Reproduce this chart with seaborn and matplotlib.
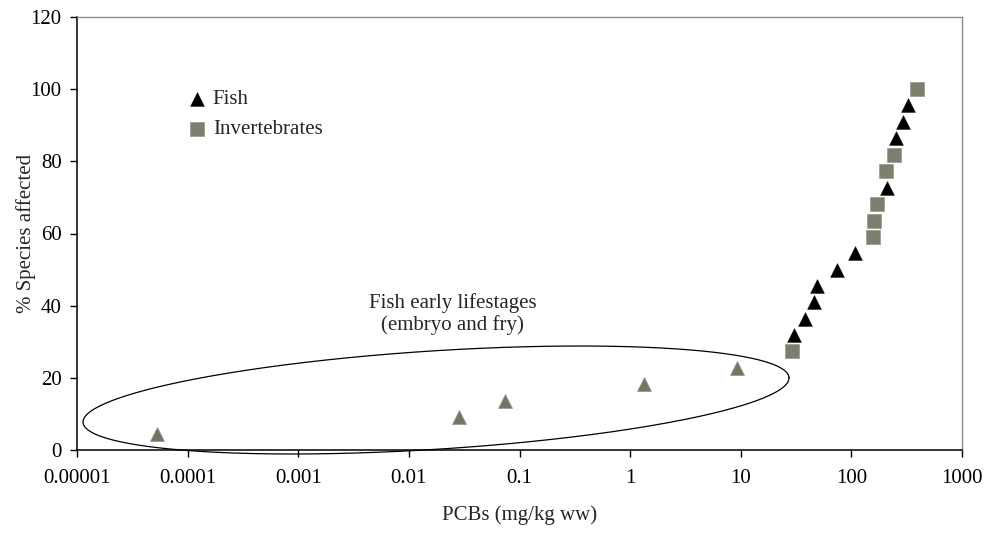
import numpy as np
import pandas as pd
import matplotlib
matplotlib.use("Agg")
import matplotlib.pyplot as plt
from matplotlib.ticker import FixedLocator, FixedFormatter, NullLocator
import seaborn as sns

# ---- data ----
early_x = [5.3e-5, 0.0284, 0.074, 1.34, 9.2]
early_y = [4.5, 9.1, 13.6, 18.2, 22.7]
fish_x = [30.6, 38.2, 46.1, 48.7, 74, 108, 209, 254, 292, 328]
fish_y = [31.8, 36.4, 40.9, 45.5, 50.0, 54.5, 72.7, 86.4, 90.9, 95.5]
inv_x = [29, 156, 161, 170, 206, 244, 391]
inv_y = [27.3, 59.1, 63.6, 68.2, 77.3, 81.8, 100]
x_ticks = [1e-5, 1e-4, 1e-3, 1e-2, 1e-1, 1, 10, 100, 1000]
x_tick_labels = ["0.00001", "0.0001", "0.001", "0.01", "0.1", "1", "10", "100", "1000"]
y_ticks = [0, 20, 40, 60, 80, 100, 120]

sns.set_style("ticks")
plt.rcParams['font.family'] = ['Liberation Serif', 'DejaVu Serif']
FS = 15

fig = plt.figure(figsize=(9.86, 5.35), dpi=100)
ax = fig.add_axes([77/986, 85/535, 885/986, 433/535])

gray = "#7e7e6e"
df_e = pd.DataFrame({"x": early_x, "y": early_y})
df_f = pd.DataFrame({"x": fish_x, "y": fish_y})
df_i = pd.DataFrame({"x": inv_x, "y": inv_y})

sns.scatterplot(data=df_e, x="x", y="y", ax=ax, marker="^", s=100, color="#747464",
                edgecolor="#9a9a8a", linewidth=0.6, zorder=3)
sns.scatterplot(data=df_f, x="x", y="y", ax=ax, marker="^", s=100, color="black",
                edgecolor="black", linewidth=0.3, label="Fish", zorder=3)
sns.scatterplot(data=df_i, x="x", y="y", ax=ax, marker="s", s=92, color=gray,
                edgecolor="#a0a090", linewidth=0.6, label="Invertebrates", zorder=3)

ax.set_xscale("log")
ax.set_xlim(1e-5, 1e3)
ax.set_ylim(0, 120)
ax.xaxis.set_major_locator(FixedLocator(x_ticks))
ax.xaxis.set_major_formatter(FixedFormatter(x_tick_labels))
ax.xaxis.set_minor_locator(NullLocator())
ax.set_yticks(y_ticks)
ax.tick_params(axis="both", direction="out", length=5, width=1, labelsize=FS, colors="black")
ax.tick_params(axis="x", pad=9)
ax.tick_params(axis="y", pad=6)

for side in ["left", "bottom"]:
    ax.spines[side].set_color("black")
    ax.spines[side].set_linewidth(1.1)
for side in ["top", "right"]:
    ax.spines[side].set_visible(True)
    ax.spines[side].set_color("#8c8c80")
    ax.spines[side].set_linewidth(1.0)

ax.set_xlabel("PCBs (mg/kg ww)", fontsize=FS, labelpad=12)
ax.set_ylabel("% Species affected", fontsize=FS)
ax.yaxis.set_label_coords(-0.046, 0.5)

leg = ax.legend(loc="center left", bbox_to_anchor=(0.124, 0.775), frameon=False,
                fontsize=FS, handlelength=1.0, handletextpad=0.25, labelspacing=0.5,
                borderpad=0, borderaxespad=0)

# ellipse annotation (pixel geometry converted to axes fraction)
cx, cy, a, b, ang = 436.0, 400.0, 353.7, 49.2, np.deg2rad(3.64)
t = np.linspace(0, 2 * np.pi, 400)
px = cx + a * np.cos(t) * np.cos(ang) - b * np.sin(t) * np.sin(ang)
py = cy - (a * np.cos(t) * np.sin(ang) + b * np.sin(t) * np.cos(ang))
ax.plot((px - 77) / 885, (450 - py) / 433, color="black", lw=0.9,
        transform=ax.transAxes, clip_on=False, zorder=2)

ax.text(0.025, 37.7, "Fish early lifestages\n(embryo and fry)", ha="center", va="center",
        fontsize=FS, multialignment="center", linespacing=1.1)

fig.savefig("out.png", dpi=100)
